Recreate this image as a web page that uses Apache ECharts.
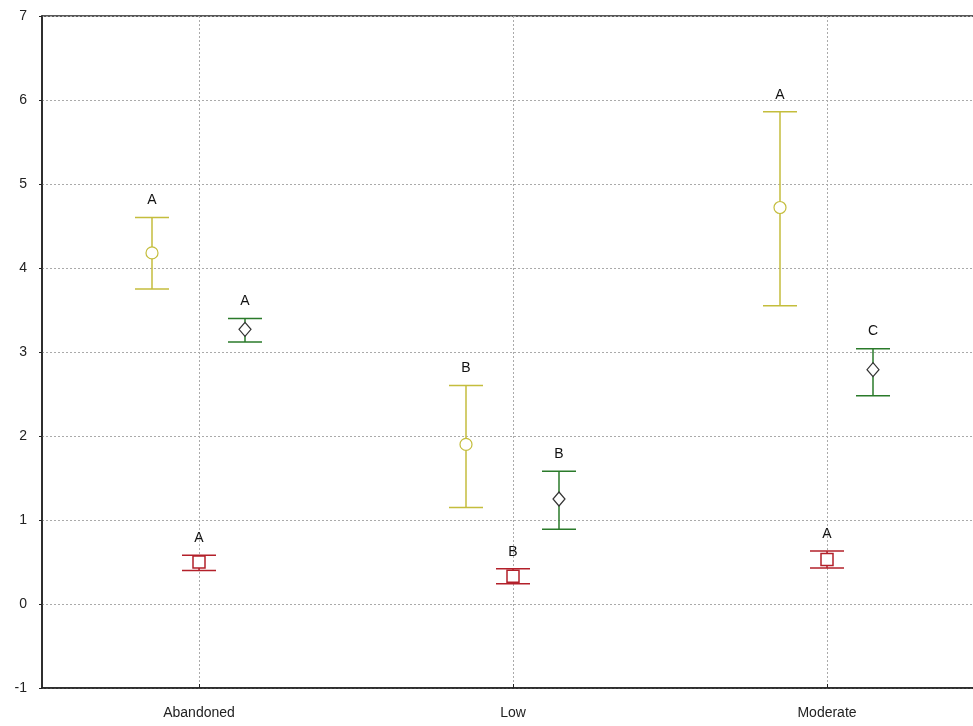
<!DOCTYPE html>
<html>
<head>
<meta charset="utf-8">
<script src="https://cdn.jsdelivr.net/npm/echarts@6/dist/echarts.min.js"></script>
<style>html,body{margin:0;padding:0;background:#fff;overflow:hidden;width:973px;height:726px}#chart{width:984px;height:726px}</style>
</head>
<body>
<div id="chart"></div>
<script>
const categories = ['Abandoned', 'Low', 'Moderate'];
const yTicks = [-1, 0, 1, 2, 3, 4, 5, 6, 7];

// yellow (circle) series: mean, lower, upper, letter
const yellowMean  = [4.18, 1.90, 4.72];
const yellowLow   = [3.75, 1.15, 3.55];
const yellowHigh  = [4.60, 2.60, 5.86];
const yellowLetter = ['A', 'B', 'A'];

// red (square) series
const redMean  = [0.50, 0.33, 0.53];
const redLow   = [0.40, 0.24, 0.43];
const redHigh  = [0.58, 0.42, 0.63];
const redLetter = ['A', 'B', 'A'];

// green (diamond) series
const greenMean  = [3.27, 1.25, 2.79];
const greenLow   = [3.12, 0.89, 2.48];
const greenHigh  = [3.40, 1.58, 3.04];
const greenLetter = ['A', 'B', 'C'];

function build(mean, low, high, letters) {
  return categories.map((c, i) => [i, mean[i], low[i], high[i], letters[i]]);
}

function makeRender(offset, color, marker, markerStroke) {
  return function (params, api) {
    const i = api.value(0);
    const pm = api.coord([i, api.value(1)]);
    const pl = api.coord([i, api.value(2)]);
    const ph = api.coord([i, api.value(3)]);
    const x = pm[0] + offset;
    const half = 17;
    const children = [
      { type: 'line', shape: { x1: x, y1: ph[1], x2: x, y2: pl[1] }, style: { stroke: color, lineWidth: 1.5 } },
      { type: 'line', shape: { x1: x - half, y1: ph[1], x2: x + half, y2: ph[1] }, style: { stroke: color, lineWidth: 1.5 } },
      { type: 'line', shape: { x1: x - half, y1: pl[1], x2: x + half, y2: pl[1] }, style: { stroke: color, lineWidth: 1.5 } }
    ];
    if (marker === 'circle') {
      children.push({ type: 'circle', shape: { cx: x, cy: pm[1], r: 6 }, style: { fill: '#fff', stroke: markerStroke, lineWidth: 1.2 } });
    } else if (marker === 'rect') {
      children.push({ type: 'rect', shape: { x: x - 6, y: pm[1] - 6, width: 12, height: 12 }, style: { fill: '#fff', stroke: markerStroke, lineWidth: 1.5 } });
    } else {
      children.push({ type: 'polygon', shape: { points: [[x, pm[1] - 7], [x + 6, pm[1]], [x, pm[1] + 7], [x - 6, pm[1]]] }, style: { fill: '#fff', stroke: markerStroke, lineWidth: 1.2 } });
    }
    children.push({ type: 'text', style: { text: api.value(4), x: x, y: ph[1] - 17, textAlign: 'center', textVerticalAlign: 'middle', fill: '#111', font: '14px "Liberation Sans", Arial, sans-serif' } });
    return { type: 'group', children: children };
  };
}

const chart = echarts.init(document.getElementById('chart'), null, { renderer: 'canvas' });
chart.setOption({
  animation: false,
  backgroundColor: '#fff',
  grid: { left: 42, right: 0, top: 16, bottom: 38, show: true, borderColor: '#222', borderWidth: 1.5, backgroundColor: 'transparent', containLabel: false },
  xAxis: {
    type: 'category',
    data: categories,
    boundaryGap: true,
    axisLine: { show: true, onZero: false, lineStyle: { color: '#222', width: 1.5 } },
    axisTick: { show: true, alignWithLabel: true, inside: true, length: 4, lineStyle: { color: '#222' } },
    axisLabel: { color: '#222', fontSize: 14, margin: 18, fontFamily: '"Liberation Sans", Arial, sans-serif' },
    splitLine: { show: true, alignWithLabel: true, lineStyle: { color: '#aaa', type: [2, 2], width: 1 } }
  },
  yAxis: {
    type: 'value',
    min: yTicks[0],
    max: yTicks[yTicks.length - 1],
    interval: 1,
    axisLine: { show: true, lineStyle: { color: '#222', width: 1.5 } },
    axisTick: { show: true, length: 3, lineStyle: { color: '#222' } },
    axisLabel: { color: '#222', fontSize: 14, margin: 15, fontFamily: '"Liberation Sans", Arial, sans-serif' },
    splitLine: { show: true, lineStyle: { color: '#aaa', type: [2, 2], width: 1 } }
  },
  series: [
    { type: 'custom', name: 'yellow', data: build(yellowMean, yellowLow, yellowHigh, yellowLetter), renderItem: makeRender(-47, '#c4bd3c', 'circle', '#c4bd3c'), encode: { x: 0, y: [1, 2, 3] }, clip: false },
    { type: 'custom', name: 'red', data: build(redMean, redLow, redHigh, redLetter), renderItem: makeRender(0, '#b3202a', 'rect', '#b3202a'), encode: { x: 0, y: [1, 2, 3] }, clip: false },
    { type: 'custom', name: 'green', data: build(greenMean, greenLow, greenHigh, greenLetter), renderItem: makeRender(46, '#2a7a2a', 'diamond', '#333'), encode: { x: 0, y: [1, 2, 3] }, clip: false }
  ]
});
</script>
</body>
</html>
